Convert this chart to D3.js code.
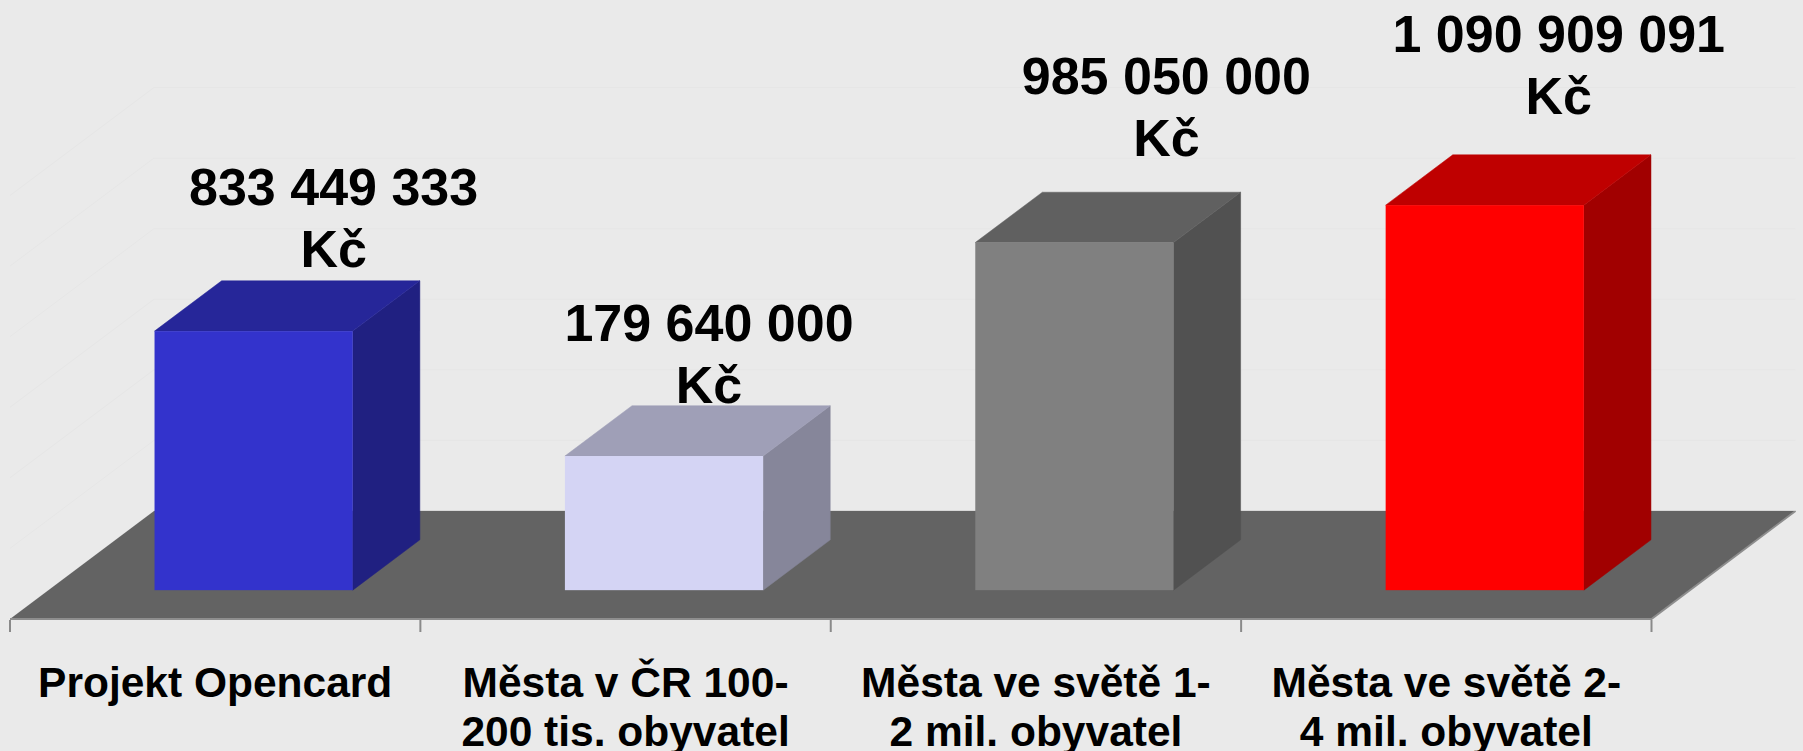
<!DOCTYPE html>
<html>
<head>
<meta charset="utf-8">
<script src="https://cdn.jsdelivr.net/npm/d3@7"></script>
<style>
  html, body { margin: 0; padding: 0; background: #EAEAEA; }
  svg { display: block; }
  text { font-family: "Liberation Sans", Arial, Helvetica, sans-serif; font-weight: bold; fill: #000; }
</style>
</head>
<body>
<svg id="chart" width="1803" height="751"></svg>
<script>
// ---- data ----
const categories = ["Projekt Opencard", "Města v ČR 100-200 tis. obyvatel", "Města ve světě 1-2 mil. obyvatel", "Města ve světě 2-4 mil. obyvatel"];
const categoryLines = [
  ["Projekt Opencard"],
  ["Města v ČR 100-", "200 tis. obyvatel"],
  ["Města ve světě 1-", "2 mil. obyvatel"],
  ["Města ve světě 2-", "4 mil. obyvatel"]
];
// amounts printed in the labels (Kč)
const labelValues = [833449333, 179640000, 985050000, 1090909091];
// bar heights as drawn in the picture (millions Kč on the hidden value axis)
const barValues = [734, 380, 985, 1091];
const gridTicks = [0, 200, 400, 600, 800, 1000, 1200];
const barColors = ["#3333CC", "#D4D4F4", "#808080", "#FF0000"];

// ---- layout ----
const svg = d3.select("#chart");
const W = 1803, H = 751;
svg.append("rect").attr("width", W).attr("height", H).attr("fill", "#EAEAEA");

const floorFrontY = 619;
const depthX = 144, depthY = -108;       // oblique depth vector of the floor
const f0 = 0.267, f1 = 0.733;            // bar depth span within the floor depth
const x = d3.scaleBand().domain(categories).range([10, 1651.5]).padding(0);
const barW = x.bandwidth() * 0.483;
const yH = d3.scaleLinear().domain([0, 1200]).range([0, 423.5]);

// side-wall and back-wall gridlines (very faint)
const grid = svg.append("g");
const backLeft = 10 + depthX, backRight = 1651.5 + depthX, backY = floorFrontY + depthY;
gridTicks.filter(d => d > 0).forEach(v => {
  grid.append("line")
    .attr("x1", backLeft).attr("x2", backRight)
    .attr("y1", backY - yH(v)).attr("y2", backY - yH(v))
    .attr("stroke", "#E6E6E6").attr("stroke-width", 1);
  grid.append("line")
    .attr("x1", 10).attr("y1", floorFrontY - yH(v))
    .attr("x2", backLeft).attr("y2", backY - yH(v))
    .attr("stroke", "#E6E6E6").attr("stroke-width", 1);
});

// floor
const fl = [[10, floorFrontY], [1651.5, floorFrontY], [1651.5 + depthX, backY], [10 + depthX, backY]];
svg.append("path")
  .attr("d", "M" + fl.map(p => p.join(",")).join("L") + "Z")
  .attr("fill", "#636363");
// floor edges
svg.append("path")
  .attr("d", `M${fl[0]}L${fl[1]}L${fl[2]}`)
  .attr("fill", "none").attr("stroke", "#8E8E8E").attr("stroke-width", 2);
svg.append("line")
  .attr("x1", fl[3][0]).attr("x2", fl[2][0]).attr("y1", backY - 0.5).attr("y2", backY - 0.5)
  .attr("stroke", "#D8D8D8").attr("stroke-width", 1);

// category axis ticks
const tickPos = categories.map(c => x(c)).concat([x(categories[categories.length - 1]) + x.bandwidth()]);
svg.append("g").selectAll("line").data(tickPos).join("line")
  .attr("x1", d => d).attr("x2", d => d)
  .attr("y1", floorFrontY + 1).attr("y2", floorFrontY + 13)
  .attr("stroke", "#8A8A8A").attr("stroke-width", 2);

// bars
function shade(c, k) {
  const r = d3.rgb(c);
  return d3.rgb(r.r * k, r.g * k, r.b * k).formatHex();
}
const bdx = (f1 - f0) * depthX, bdy = (f1 - f0) * depthY;
const bars = svg.append("g");
const barGeo = categories.map((c, i) => {
  const left = x(c) + (x.bandwidth() - barW) / 2 + f0 * depthX;
  const bottom = floorFrontY + f0 * depthY;
  const top = bottom - yH(barValues[i]);
  return { left, right: left + barW, bottom, top };
});
barGeo.forEach((g, i) => {
  const col = barColors[i];
  const grp = bars.append("g");
  // side
  grp.append("path")
    .attr("d", `M${g.right},${g.bottom}L${g.right + bdx},${g.bottom + bdy}L${g.right + bdx},${g.top + bdy}L${g.right},${g.top}Z`)
    .attr("fill", shade(col, 0.63)).attr("stroke", shade(col, 0.63)).attr("stroke-width", 0.5);
  // top
  grp.append("path")
    .attr("d", `M${g.left},${g.top}L${g.right},${g.top}L${g.right + bdx},${g.top + bdy}L${g.left + bdx},${g.top + bdy}Z`)
    .attr("fill", shade(col, 0.75)).attr("stroke", shade(col, 0.75)).attr("stroke-width", 0.5);
  // front
  grp.append("rect")
    .attr("x", g.left).attr("y", g.top).attr("width", barW).attr("height", g.bottom - g.top)
    .attr("fill", col);
});

// value labels (manually placed in the original)
const labelOffset = [[80, -126], [45, -115], [92, -148.5], [74, -153]];
const fmt = v => d3.format(",")(v).replace(/,/g, " ");
const vl = svg.append("g");
barGeo.forEach((g, i) => {
  const cx = (g.left + g.right) / 2 + labelOffset[i][0];
  const by = g.top + labelOffset[i][1];
  const t = vl.append("text").attr("text-anchor", "middle").style("font-size", "52px");
  t.append("tspan").attr("x", cx).attr("y", by).text(fmt(labelValues[i]));
  t.append("tspan").attr("x", cx).attr("y", by + 61.5).text("Kč");
});

// category labels
const cl = svg.append("g");
categories.forEach((c, i) => {
  const cx = x(c) + x.bandwidth() / 2;
  const t = cl.append("text").attr("text-anchor", "middle").style("font-size", "42.5px");
  categoryLines[i].forEach((line, j) => {
    t.append("tspan").attr("x", cx).attr("y", 697 + j * 48.5).text(line);
  });
});
</script>
</body>
</html>
